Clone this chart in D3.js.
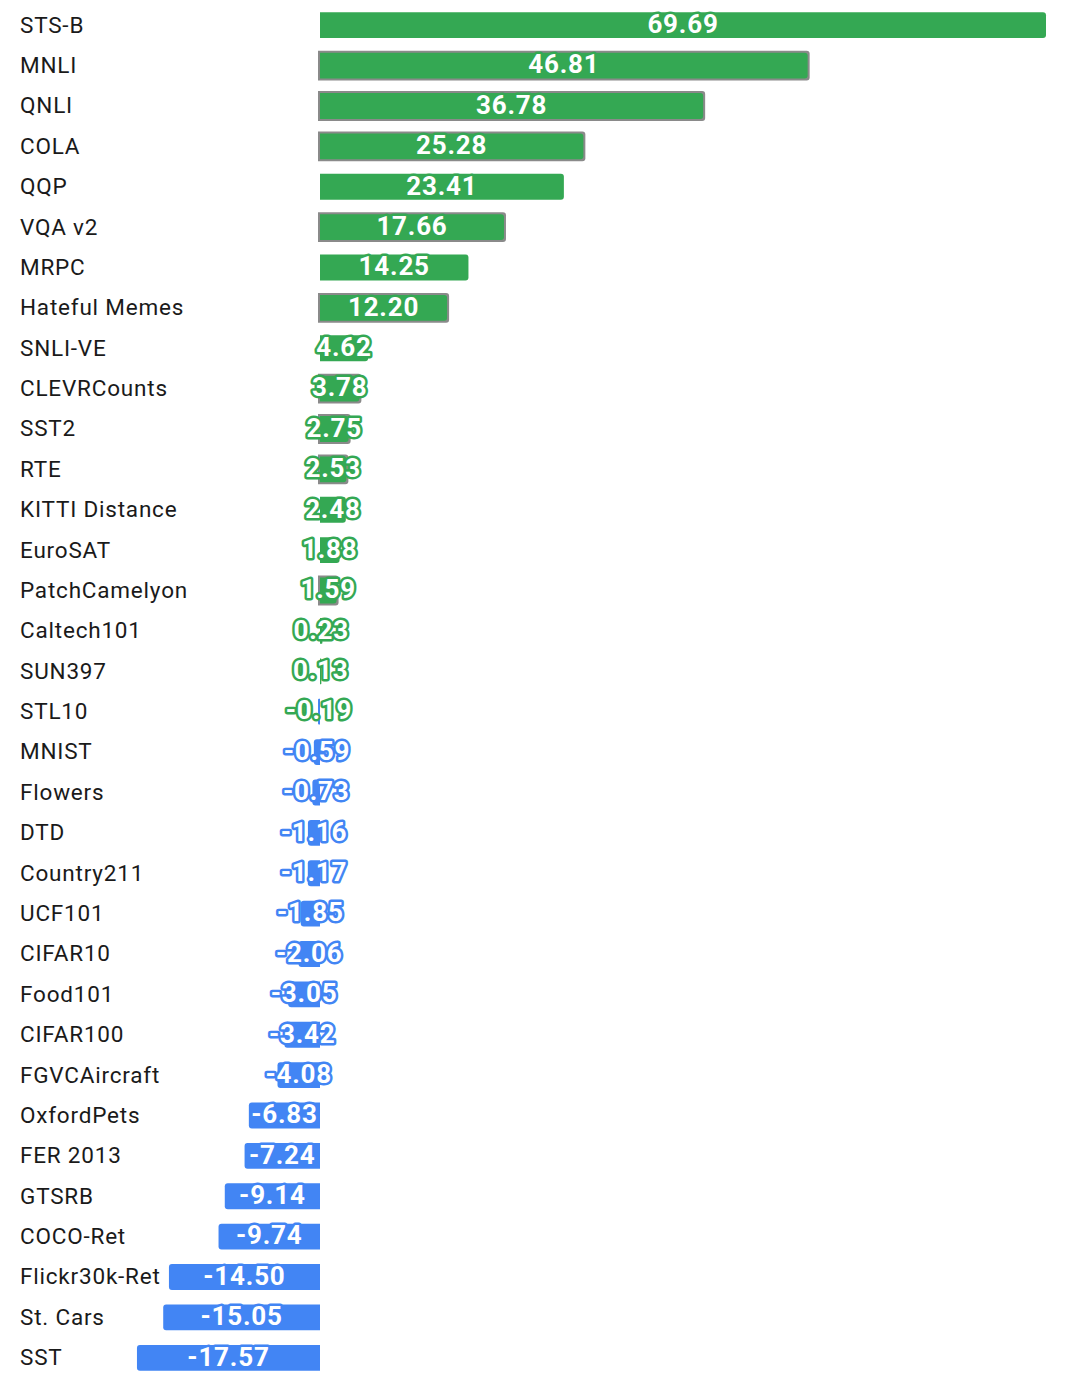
<!DOCTYPE html>
<html>
<head>
<meta charset="utf-8">
<script src="https://cdn.jsdelivr.net/npm/d3@7"></script>
<style>
  body { margin: 0; background: #fff; }
  text { font-family: Roboto, "Noto Sans", sans-serif; }
</style>
</head>
<body>
<div id="chart"></div>
<script>
// task names, top to bottom
var tasks = ["STS-B", "MNLI", "QNLI", "COLA", "QQP", "VQA v2", "MRPC", "Hateful Memes",
  "SNLI-VE", "CLEVRCounts", "SST2", "RTE", "KITTI Distance", "EuroSAT", "PatchCamelyon",
  "Caltech101", "SUN397", "STL10", "MNIST", "Flowers", "DTD", "Country211", "UCF101",
  "CIFAR10", "Food101", "CIFAR100", "FGVCAircraft", "OxfordPets", "FER 2013", "GTSRB",
  "COCO-Ret", "Flickr30k-Ret", "St. Cars", "SST"];

var values = [69.69, 46.81, 36.78, 25.28, 23.41, 17.66, 14.25, 12.20,
  4.62, 3.78, 2.75, 2.53, 2.48, 1.88, 1.59,
  0.23, 0.13, -0.19, -0.59, -0.73, -1.16, -1.17, -1.85,
  -2.06, -3.05, -3.42, -4.08, -6.83, -7.24, -9.14,
  -9.74, -14.50, -15.05, -17.57];

// bars drawn with a grey outline in the original
var outlined = ["MNLI", "QNLI", "COLA", "VQA v2", "Hateful Memes", "CLEVRCounts", "SST2", "RTE", "PatchCamelyon"];

var W = 1080, H = 1390;
var green = "#34a853", blue = "#4285f4";

var data = tasks.map(function (t, i) { return { name: t, value: values[i], idx: i }; });

var svg = d3.select("#chart").append("svg")
    .attr("width", W)
    .attr("height", H);

var x = d3.scaleLinear()
    .domain([0, 69.69])
    .range([320, 1046]);

var y = d3.scaleBand()
    .domain(tasks)
    .range([5, 1378])
    .paddingInner(0.36)
    .paddingOuter(0.18);

var bh = y.bandwidth();

function colorOf(d) {
    // STL10 (-0.19) keeps a green outline in the picture
    return d.idx <= 17 ? green : blue;
}

// bar path with rounded far end
function barPath(d, pad) {
    var x0 = x(0), x1 = x(d.value);
    var top = y(d.name) - pad, bot = y(d.name) + bh + pad;
    var r = Math.min(3, Math.abs(x1 - x0) / 2);
    if (x1 >= x0) {
        x0 -= pad; x1 += pad;
        return "M" + x0 + "," + top + "H" + (x1 - r) + "Q" + x1 + "," + top + " " + x1 + "," + (top + r) +
            "V" + (bot - r) + "Q" + x1 + "," + bot + " " + (x1 - r) + "," + bot + "H" + x0 + "Z";
    } else {
        x0 += pad; x1 -= pad;
        return "M" + x0 + "," + top + "H" + (x1 + r) + "Q" + x1 + "," + top + " " + x1 + "," + (top + r) +
            "V" + (bot - r) + "Q" + x1 + "," + bot + " " + (x1 + r) + "," + bot + "H" + x0 + "Z";
    }
}

var g = svg.append("g");

// grey outlines
g.selectAll(".outline")
    .data(data.filter(function (d) { return outlined.indexOf(d.name) >= 0; }))
    .enter().append("path")
    .attr("class", "outline")
    .attr("d", function (d) { return barPath(d, 2); })
    .attr("fill", "#8a8a8a");

g.selectAll(".bar")
    .data(data)
    .enter().append("path")
    .attr("class", "bar")
    .attr("d", function (d) { return barPath(d, 0); })
    .attr("fill", function (d) { return d.value >= 0 ? green : blue; });

// category labels
svg.selectAll(".cat")
    .data(data)
    .enter().append("text")
    .attr("class", "cat")
    .attr("x", 20)
    .attr("y", function (d) { return y(d.name) + bh / 2; })
    .attr("dy", "0.33em")
    .attr("font-size", 22.5)
    .attr("letter-spacing", 0.8)
    .attr("fill", "#1a1a1a")
    .text(function (d) { return d.name; });

// value labels, centred on the bar
svg.selectAll(".val")
    .data(data)
    .enter().append("text")
    .attr("class", "val")
    .attr("x", function (d) { return (x(0) + x(d.value)) / 2; })
    .attr("y", function (d) { return y(d.name) + bh / 2; })
    .attr("dy", "0.3em")
    .attr("text-anchor", "middle")
    .attr("font-size", 26)
    .attr("font-weight", "bold")
    .attr("letter-spacing", 0.8)
    .attr("fill", "#fff")
    .attr("stroke", colorOf)
    .attr("stroke-width", 5)
    .attr("stroke-linejoin", "round")
    .attr("paint-order", "stroke")
    .text(function (d) { return d.value.toFixed(2); });
</script>
</body>
</html>
